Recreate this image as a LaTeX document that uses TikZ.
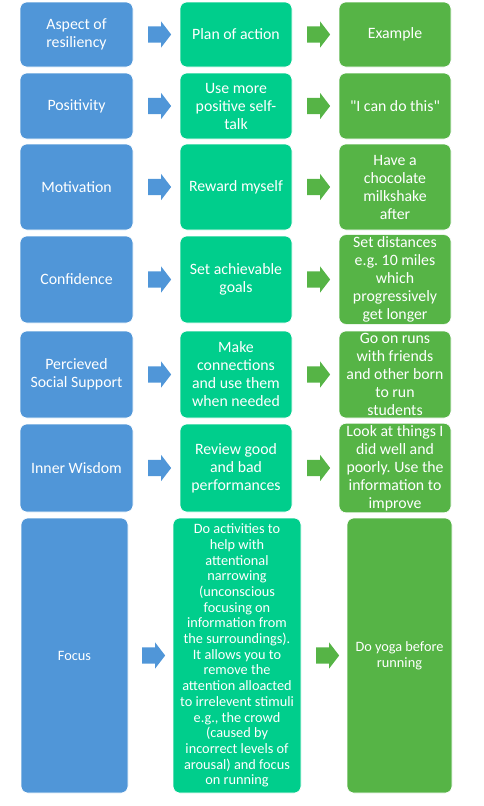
\documentclass[tikz,border=0pt]{standalone}
\usepackage{fontspec}
\setmainfont{Carlito}[Ligatures=TeXOff]
\usetikzlibrary{shapes.arrows}
\definecolor{aspectblue}{RGB}{80,150,216}
\definecolor{planteal}{RGB}{0,206,140}
\definecolor{examplegreen}{RGB}{86,180,70}
\frenchspacing
\begin{document}
\begin{tikzpicture}[x=1pt,y=-1pt]
\path[use as bounding box] (0,0) rectangle (483,806);
\tikzstyle{cell}=[draw=white, line width=0.6pt, rounded corners=7pt, align=center, text=white, inner sep=2pt, font=\fontsize{15.8}{18}\selectfont]
\tikzstyle{aspect}=[cell, fill=aspectblue, minimum width=113pt]
\tikzstyle{plan}=[cell, fill=planteal, minimum width=112pt]
\tikzstyle{example}=[cell, fill=examplegreen, minimum width=112pt]
\tikzstyle{barrow}=[single arrow, minimum height=23pt, single arrow head extend=5pt, single arrow tip angle=105, inner sep=0pt, draw=none]
\tikzstyle{small}=[font=\fontsize{14.3}{15.7}\selectfont]
\newcommand{\shaft}{\rule{0pt}{16pt}}

% header row
\node[aspect, minimum height=65pt] (asp1) at (76.5,34.5) {Aspect of\\resiliency};
\node[plan, minimum height=65pt] (pln1) at (236,34.5) {Plan of action};
\node[example, minimum height=65pt] (exm1) at (395,34.5) {Example};
\node[barrow, fill=aspectblue] (ba1) at (156.5,34.5) {\shaft};
\node[barrow, fill=examplegreen] (ga1) at (315.5,34.5) {\shaft};

% positivity
\node[aspect, minimum height=66pt] (asp2) at (76.5,106) {Positivity};
\node[plan, minimum height=66pt] (pln2) at (236,106) {Use more\\positive self-\\talk};
\node[example, minimum height=66pt] (exm2) at (395,106) {"I can do this"};
\node[barrow, fill=aspectblue] (ba2) at (156.5,106) {\shaft};
\node[barrow, fill=examplegreen] (ga2) at (315.5,106) {\shaft};

% motivation
\node[aspect, minimum height=86pt] (asp3) at (76.5,187) {Motivation};
\node[plan, minimum height=86pt] (pln3) at (236,187) {Reward myself};
\node[example, minimum height=86pt] (exm3) at (395,187) {Have a\\chocolate\\milkshake\\after};
\node[barrow, fill=aspectblue] (ba3) at (156.5,187) {\shaft};
\node[barrow, fill=examplegreen] (ga3) at (315.5,187) {\shaft};

% confidence
\node[aspect, minimum height=87pt] (asp4) at (76.5,279.5) {Confidence};
\node[plan, minimum height=87pt] (pln4) at (236,279.5) {Set achievable\\goals};
\node[example, minimum height=87pt] (exm4) at (395,279.5) {Set distances\\e.g. 10 miles\\which\\progressively\\get longer};
\node[barrow, fill=aspectblue] (ba4) at (156.5,279.5) {\shaft};
\node[barrow, fill=examplegreen] (ga4) at (315.5,279.5) {\shaft};

% social support
\node[aspect, minimum height=87pt] (asp5) at (76.5,374.5) {Percieved\\Social Support};
\node[plan, minimum height=87pt] (pln5) at (236,374.5) {Make\\connections\\and use them\\when needed};
\node[example, minimum height=87pt] (exm5) at (395,374.5) {Go on runs\\with friends\\and other born\\to run\\students};
\node[barrow, fill=aspectblue] (ba5) at (156.5,374.5) {\shaft};
\node[barrow, fill=examplegreen] (ga5) at (315.5,374.5) {\shaft};

% inner wisdom
\node[aspect, minimum height=88pt] (asp6) at (76.5,468) {Inner Wisdom};
\node[plan, minimum height=88pt] (pln6) at (236,468) {Review good\\and bad\\performances};
\node[example, minimum height=88pt] (exm6) at (395,468) {Look at things I\\did well and\\poorly. Use the\\information to\\improve};
\node[barrow, fill=aspectblue] (ba6) at (156.5,468) {\shaft};
\node[barrow, fill=examplegreen] (ga6) at (315.5,468) {\shaft};

% focus
\node[aspect, small, minimum width=107pt, minimum height=275pt] (asp7) at (74.5,655.5) {Focus};
\node[plan, small, minimum width=128pt, minimum height=275pt] (pln7) at (237,655.5) {Do activities to\\help with\\attentional\\narrowing\\(unconscious\\focusing on\\information from\\the surroundings).\\It allows you to\\remove the\\attention alloacted\\to irrelevent stimuli\\e.g., the crowd\\(caused by\\incorrect levels of\\arousal) and focus\\on running};
\node[example, small, minimum width=105pt, minimum height=275pt] (exm7) at (399.5,655.5) {Do yoga before\\running};
\node[barrow, fill=aspectblue] (ba7) at (150.5,655.5) {\shaft};
\node[barrow, fill=examplegreen] (ga7) at (324.5,655.5) {\shaft};
\end{tikzpicture}
\end{document}
